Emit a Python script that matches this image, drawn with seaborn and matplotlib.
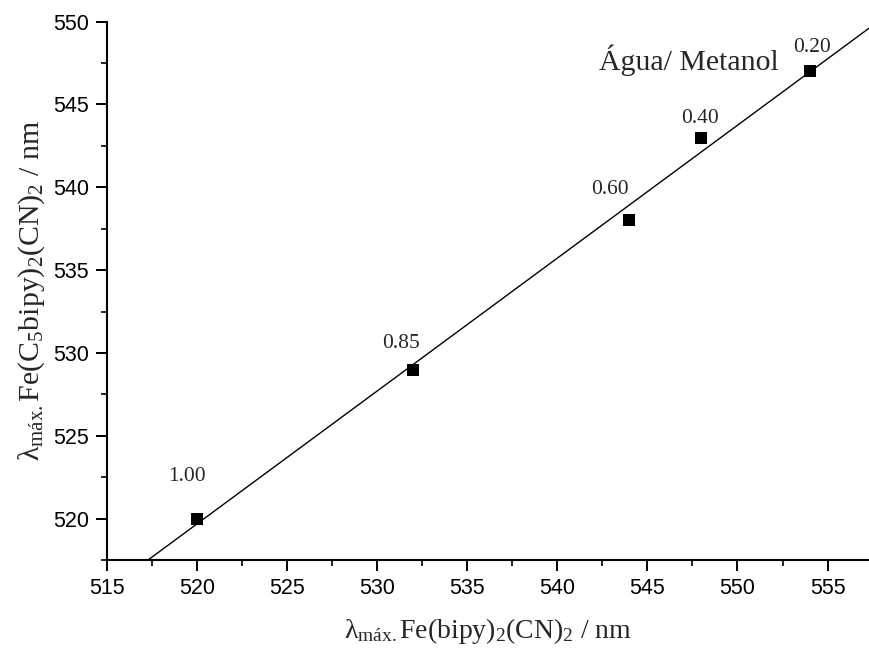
import numpy as np
import pandas as pd
import seaborn as sns
import matplotlib
matplotlib.use("Agg")
import matplotlib.pyplot as plt
from matplotlib.ticker import MultipleLocator

# Data
x_bipy = [520, 532, 544, 548, 554]          # λmáx Fe(bipy)2(CN)2 / nm
y_c5bipy = [520, 529, 538, 543, 547]        # λmáx Fe(C5bipy)2(CN)2 / nm
fractions = ["1.00", "0.85", "0.60", "0.40", "0.20"]
x_ticks = [515, 520, 525, 530, 535, 540, 545, 550, 555]
y_ticks = [520, 525, 530, 535, 540, 545, 550]
title_text = "Água/ Metanol"

df = pd.DataFrame({"x": x_bipy, "y": y_c5bipy, "frac": fractions})

sns.set_theme(style="ticks")
plt.rcParams["font.family"] = ["Liberation Sans", "DejaVu Sans"]
plt.rcParams["mathtext.fontset"] = "custom"
plt.rcParams["mathtext.rm"] = "Liberation Serif"
plt.rcParams["mathtext.it"] = "Liberation Serif:italic"
plt.rcParams["mathtext.default"] = "rm"

fig = plt.figure(figsize=(8.69, 6.52), dpi=100)
ax = fig.add_axes([0.123, 0.141, 0.877, 0.826])
ax.set_xlim(515, 557.3)
ax.set_ylim(517.5, 550)

sns.regplot(data=df, x="x", y="y", ax=ax, scatter=False, ci=None,
            truncate=False, color="black", line_kws={"lw": 1.0})
sns.scatterplot(data=df, x="x", y="y", ax=ax, marker="s", s=80,
                color="black", edgecolor="black", linewidth=0, zorder=5)

offsets = [(-7, 30), (-9, 19), (-14, 22), (-1, 14), (2, 17)]
serif = ["Liberation Serif", "DejaVu Serif"]
for (xv, yv, lab), off in zip(zip(x_bipy, y_c5bipy, fractions), offsets):
    ax.annotate(lab, (xv, yv), xytext=off, textcoords="offset points",
                ha="center", va="center", fontsize=15.5, family=serif)

ax.text(0.646, 0.928, title_text, transform=ax.transAxes, fontsize=21.5,
        family=serif, ha="left", va="center")

ax.set_xticks(x_ticks)
ax.set_yticks(y_ticks)
ax.xaxis.set_minor_locator(MultipleLocator(2.5))
ax.yaxis.set_minor_locator(MultipleLocator(2.5))
ax.tick_params(which="major", direction="out", length=8, width=1.4,
               labelsize=15.5, colors="black", pad=5)
ax.tick_params(which="minor", direction="out", length=4.5, width=1.4)
for s in ["left", "bottom"]:
    ax.spines[s].set_linewidth(1.5)
    ax.spines[s].set_color("black")
sns.despine(ax=ax)

ax.set_xlabel(r"λ$_{\mathrm{máx.}}$Fe(bipy)$_2$(CN)$_2$ / nm",
              family=serif, fontsize=20, labelpad=12)
ax.set_ylabel(r"λ$_{\mathrm{máx.}}$Fe(C$_5$bipy)$_2$(CN)$_2$ / nm",
              family=serif, fontsize=21.5, labelpad=4)

fig.savefig("out.png", dpi=100, facecolor="white")
